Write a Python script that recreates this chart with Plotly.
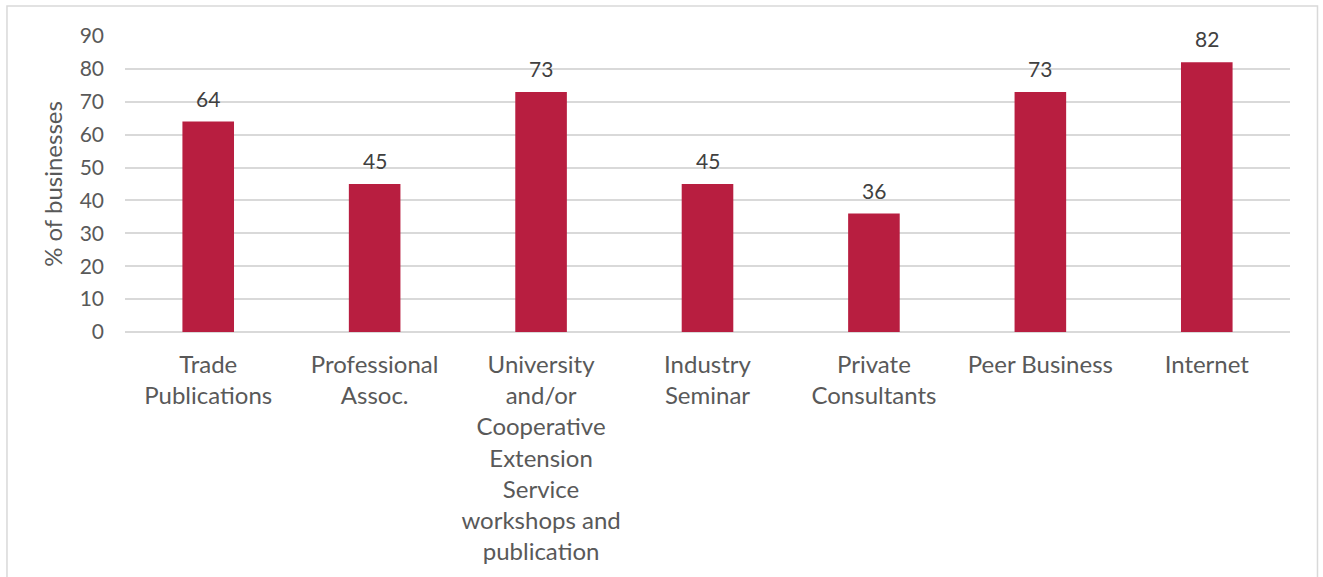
import plotly.graph_objects as go

categories = [
    "Trade<br>Publications",
    "Professional<br>Assoc.",
    "University<br>and/or<br>Cooperative<br>Extension<br>Service<br>workshops and<br>publication",
    "Industry<br>Seminar",
    "Private<br>Consultants",
    "Peer Business",
    "Internet",
]
values = [64, 45, 73, 45, 36, 73, 82]
y_ticks = [0, 10, 20, 30, 40, 50, 60, 70, 80, 90]

FONT = "Lato, Open Sans, sans-serif"
BAR = "#B81E40"
GRID = "#D9D9D9"

fig = go.Figure()
fig.add_trace(go.Bar(
    x=categories, y=values,
    marker=dict(color=BAR, line=dict(width=0)),
    hoverinfo="skip",
))

for c, v in zip(categories, values):
    fig.add_annotation(
        x=c, y=v, text=str(v), showarrow=False,
        yanchor="bottom", yshift=9,
        font=dict(family=FONT, size=21, color="#404040"),
    )

# chart border
fig.add_shape(
    type="rect", xref="paper", yref="paper",
    x0=-0.1013, x1=1.0236, y0=-0.9, y1=1.1014,
    line=dict(color=GRID, width=1.5), fillcolor="rgba(0,0,0,0)",
    layer="below",
)

fig.update_layout(
    width=1323, height=577,
    margin=dict(l=125, r=33, t=36, b=245),
    paper_bgcolor="white", plot_bgcolor="white",
    bargap=0.69,
    showlegend=False,
    font=dict(family=FONT, color="#595959"),
    xaxis=dict(
        showgrid=False, showline=False, zeroline=False,
        tickfont=dict(family=FONT, size=24, color="#595959"),
        ticks="", ticklabelstandoff=16,
        fixedrange=True,
    ),
    yaxis=dict(
        range=[0, 90], tickvals=y_ticks,
        showgrid=True, gridcolor=GRID, gridwidth=1.5,
        zeroline=True, zerolinecolor=GRID, zerolinewidth=1.5,
        showline=False, ticks="", ticklabelstandoff=20,
        tickfont=dict(family=FONT, size=21, color="#595959"),
        title=dict(text="% of businesses", standoff=10,
                   font=dict(family=FONT, size=24, color="#595959")),
        fixedrange=True,
    ),
)

fig.write_html("out.html")
